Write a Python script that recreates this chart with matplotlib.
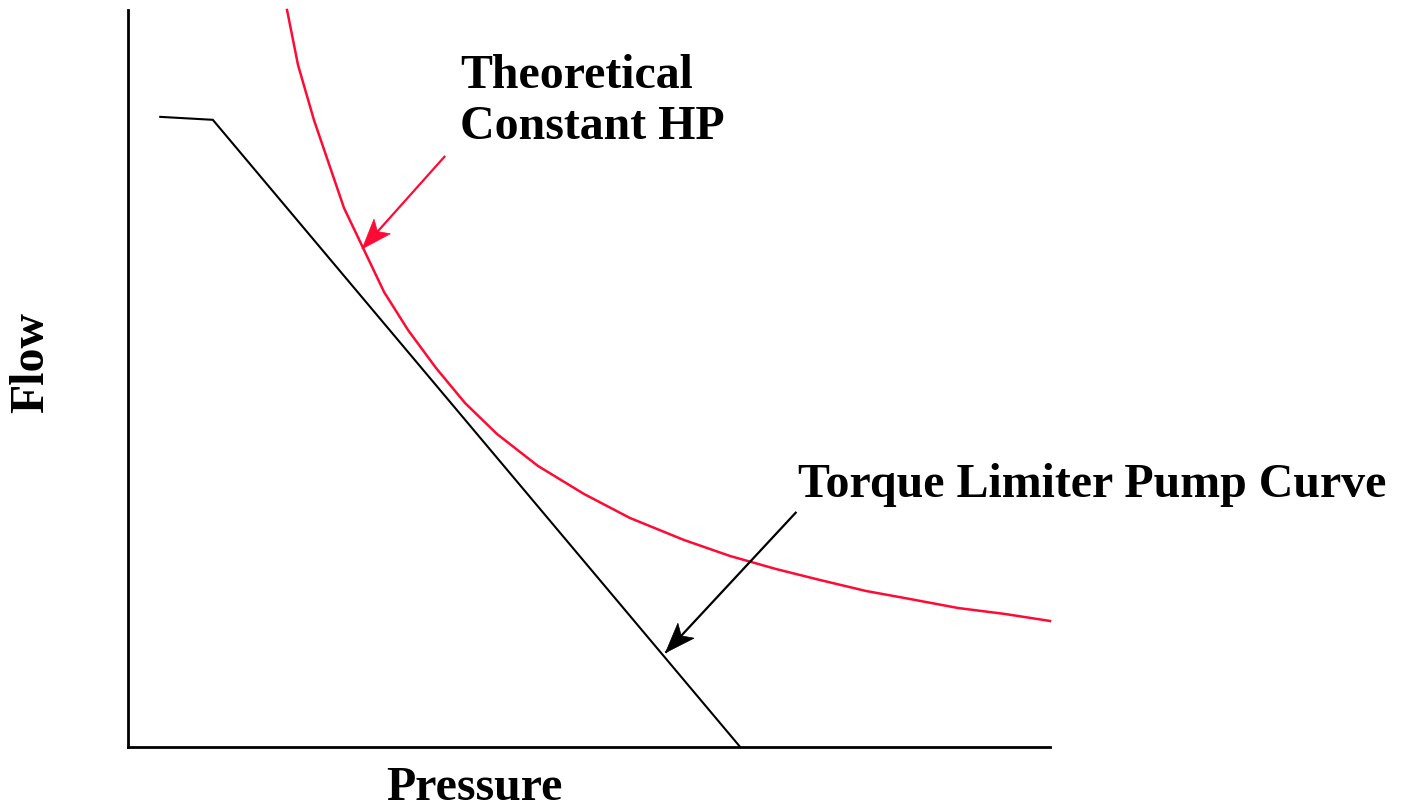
import matplotlib
matplotlib.use("Agg")
import matplotlib.pyplot as plt
import numpy as np
from matplotlib.patches import Polygon

# pump curve (torque limiter) in arbitrary pressure / flow units
limiter_pressure = [3.5, 9.2, 66.4]
limiter_flow = [85.5, 85.1, 0.0]

# theoretical constant horsepower curve
hp_pressure = [17.25, 18.44, 20.17, 23.43, 25.60, 27.77, 30.37, 33.41, 36.55, 40.02, 44.47,
               49.46, 54.45, 60.30, 65.29, 70.28, 75.05, 80.04, 84.82, 90.02, 95.12, 100.0]
hp_flow = [100.0, 92.54, 85.07, 73.13, 67.44, 61.74, 56.58, 51.42, 46.68, 42.47, 38.13,
           34.33, 31.07, 28.09, 25.92, 24.15, 22.66, 21.17, 20.08, 18.86, 18.05, 17.10]

RED = "#ff0a35"
FONT = "Liberation Serif"
W, H = 1407, 811


def fx(px):
    return px / W


def fy(py):
    return 1 - py / H


def pointer(ax, tail, tip, color, head_len=30, half_w=11, notch=7):
    """Line with a notched (stealth) arrow head, sized in pixels."""
    ax.plot([tail[0], tip[0]], [tail[1], tip[1]], color=color, lw=1.6, solid_capstyle="butt")
    to_disp = ax.transData
    t0 = to_disp.transform(tail)
    t1 = to_disp.transform(tip)
    d = (t1 - t0) / np.hypot(*(t1 - t0))
    n = np.array([-d[1], d[0]])
    base = t1 - d * head_len
    pts = [t1, base + n * half_w, t1 - d * (head_len - notch), base - n * half_w]
    ax.add_patch(Polygon(pts, closed=True, transform=None, facecolor=color,
                         edgecolor=color, lw=0.5, zorder=3))


fig = plt.figure(figsize=(W / 100, H / 100), dpi=100)
ax = fig.add_axes([fx(128), fy(747), fx(1050) - fx(128), fy(10) - fy(747)])

ax.plot(limiter_pressure, limiter_flow, color="black", lw=1.5, solid_joinstyle="miter")
ax.plot(hp_pressure, hp_flow, color=RED, lw=1.8, clip_on=False)

ax.set_xlim(0, 100)
ax.set_ylim(0, 100)
ax.set_xticks([])
ax.set_yticks([])
for side in ("top", "right"):
    ax.spines[side].set_visible(False)
for side in ("left", "bottom"):
    ax.spines[side].set_linewidth(2.0)

pointer(ax, (34.4, 80.2), (25.4, 67.6), RED)
pointer(ax, (72.5, 31.9), (58.3, 12.8), "black")

txt = dict(fontfamily=FONT, fontweight="bold", fontsize=34.5)
fig.text(fx(460), fy(88), "Theoretical", ha="left", va="baseline", **txt)
fig.text(fx(460), fy(139), "Constant HP", ha="left", va="baseline", **txt)
fig.text(fx(798), fy(497), "Torque Limiter Pump Curve", ha="left", va="baseline", **txt)
fig.text(fx(474), fy(800), "Pressure", ha="center", va="baseline", **txt)
fig.text(fx(31), fy(363), "Flow", ha="center", va="center", rotation=90, **txt)

fig.savefig("out.png", dpi=100)
